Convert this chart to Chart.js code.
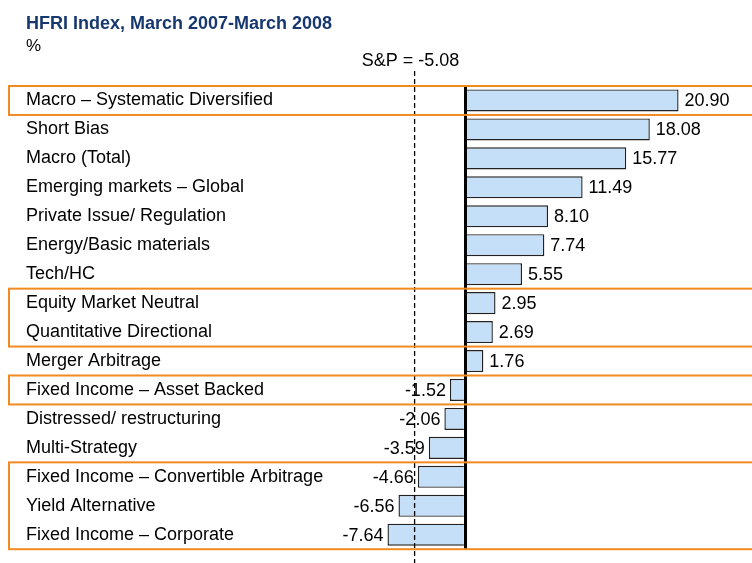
<!DOCTYPE html>
<html>
<head>
<meta charset="utf-8">
<script src="https://cdn.jsdelivr.net/npm/chart.js@4.4.0/dist/chart.umd.min.js"></script>
<style>
  html, body { margin: 0; padding: 0; background: #fff; }
  #contenedor { width: 752px; height: 563px; }
</style>
</head>
<body>
<div id="contenedor"><canvas id="grafica"></canvas></div>
<script>
// Rentabilidad de los índices HFRI, marzo 2007 - marzo 2008 (%)
const titulo = 'HFRI Index, March 2007-March 2008';
const subtitulo = '%';

const categorias = [
  'Macro – Systematic Diversified',
  'Short Bias',
  'Macro (Total)',
  'Emerging markets – Global',
  'Private Issue/ Regulation',
  'Energy/Basic materials',
  'Tech/HC',
  'Equity Market Neutral',
  'Quantitative Directional',
  'Merger Arbitrage',
  'Fixed Income – Asset Backed',
  'Distressed/ restructuring',
  'Multi-Strategy',
  'Fixed Income – Convertible Arbitrage',
  'Yield Alternative',
  'Fixed Income – Corporate'
];
const valores = [20.90, 18.08, 15.77, 11.49, 8.10, 7.74, 5.55, 2.95, 2.69, 1.76,
  -1.52, -2.06, -3.59, -4.66, -6.56, -7.64];

// Referencia del S&P
const valorSP = -5.08;
const etiquetaSP = 'S&P = -5.08';

// Grupos resaltados con marco naranja (índice inicial, índice final)
const gruposResaltados = [[0, 0], [7, 8], [10, 10], [13, 15]];

const fuente = "'Liberation Sans', Arial, sans-serif";

// Etiquetas con el valor de cada barra
const etiquetasValor = {
  id: 'etiquetasValor',
  afterDatasetsDraw(chart) {
    const ctx = chart.ctx;
    const meta = chart.getDatasetMeta(0);
    ctx.save();
    ctx.font = '18px ' + fuente;
    ctx.fillStyle = '#000';
    ctx.textBaseline = 'middle';
    meta.data.forEach((barra, i) => {
      const v = valores[i];
      if (v >= 0) {
        ctx.textAlign = 'left';
        ctx.fillText(v.toFixed(2), barra.x + 6, barra.y + 1);
      } else {
        ctx.textAlign = 'right';
        ctx.fillText(v.toFixed(2), barra.x - 4, barra.y + 1);
      }
    });

    // Línea discontinua del S&P
    const xSP = chart.scales.x.getPixelForValue(valorSP);
    ctx.strokeStyle = '#000';
    ctx.lineWidth = 1.3;
    ctx.setLineDash([5, 3]);
    ctx.beginPath();
    ctx.moveTo(xSP + 1, 71);
    ctx.lineTo(xSP + 1, chart.height);
    ctx.stroke();
    ctx.setLineDash([]);
    ctx.textAlign = 'center';
    ctx.textBaseline = 'alphabetic';
    ctx.fillText(etiquetaSP, xSP - 3, 66);
    ctx.restore();
  }
};

// Marcos naranjas alrededor de los grupos
const marcosNaranja = {
  id: 'marcosNaranja',
  afterDraw(chart) {
    const ctx = chart.ctx;
    const y = chart.scales.y;
    const paso = y.getPixelForValue(1) - y.getPixelForValue(0);
    ctx.save();
    ctx.strokeStyle = '#F28A22';
    ctx.lineWidth = 2;
    gruposResaltados.forEach(([a, b]) => {
      const arriba = y.getPixelForValue(a) - paso / 2;
      const abajo = y.getPixelForValue(b) + paso / 2;
      ctx.strokeRect(9, arriba, chart.width + 20, abajo - arriba);
    });
    ctx.restore();
  }
};

new Chart(document.getElementById('grafica'), {
  type: 'bar',
  data: {
    labels: categorias,
    datasets: [{
      data: valores,
      backgroundColor: '#C6DFF8',
      borderColor: '#222222',
      borderWidth: 1.4,
      barPercentage: 0.76,
      categoryPercentage: 1
    }]
  },
  options: {
    indexAxis: 'y',
    responsive: true,
    maintainAspectRatio: false,
    animation: false,
    layout: { padding: { left: 26, right: 0, top: 0, bottom: 13.8 } },
    scales: {
      x: {
        min: -12.1,
        max: 28.1,
        z: 1,
        border: { display: false },
        ticks: { display: false, stepSize: 5 },
        grid: {
          drawTicks: false,
          lineWidth: 3,
          color: c => (c.tick && c.tick.value === 0) ? '#000' : 'rgba(0,0,0,0)'
        }
      },
      y: {
        border: { display: false },
        grid: { display: false },
        ticks: {
          crossAlign: 'far',
          padding: 0,
          color: '#000',
          font: { size: 18, family: fuente }
        },
        afterFit: eje => { eje.width = 316; }
      }
    },
    plugins: {
      legend: { display: false },
      tooltip: { enabled: false },
      title: {
        display: true,
        text: titulo,
        align: 'start',
        color: '#17386E',
        font: { size: 18, weight: 'bold', family: fuente, lineHeight: 1.2 },
        padding: { top: 13.7, bottom: 1 }
      },
      subtitle: {
        display: true,
        text: subtitulo,
        align: 'start',
        color: '#000',
        font: { size: 17, family: fuente, lineHeight: 1.2 },
        padding: { top: 0, bottom: 29.3 }
      }
    }
  },
  plugins: [etiquetasValor, marcosNaranja]
});
</script>
</body>
</html>
